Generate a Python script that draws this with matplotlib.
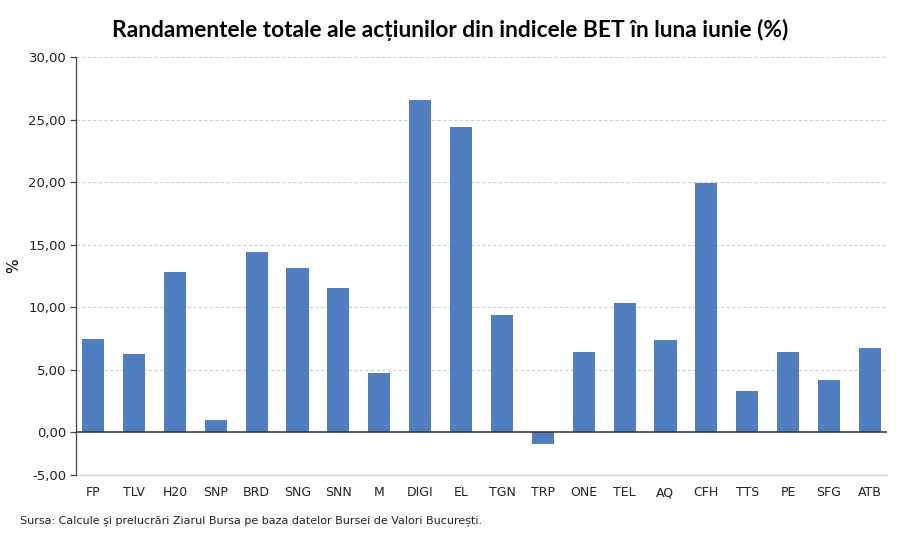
import numpy as np
import matplotlib.pyplot as plt
from matplotlib.ticker import FuncFormatter

tickers = ["FP", "TLV", "H20", "SNP", "BRD", "SNG", "SNN", "M", "DIGI", "EL",
           "TGN", "TRP", "ONE", "TEL", "AQ", "CFH", "TTS", "PE", "SFG", "ATB"]
returns = [7.44, 6.24, 12.8, 0.96, 14.4, 13.1, 11.5, 4.72, 26.6, 24.4,
           9.36, -1.4, 6.4, 10.3, 7.36, 19.9, 3.28, 6.4, 4.16, 6.72]
y_ticks = [-5, 0, 5, 10, 15, 20, 25, 30]

# the reference squeezes the part below zero
NEG = 0.683


def fwd(v):
    v = np.asarray(v, dtype=float)
    return np.where(v < 0, v * NEG, v)


def inv(v):
    v = np.asarray(v, dtype=float)
    return np.where(v < 0, v / NEG, v)


fig = plt.figure(figsize=(9, 5.37), dpi=100)
ax = fig.add_axes([0.0844, 0.1155, 0.9012, 0.778])
ax.set_yscale("function", functions=(fwd, inv))

x = np.arange(len(tickers))
ax.bar(x, returns, width=0.54, color="#4F7FC0", zorder=3)

ax.set_xlim(-0.42, 19.42)
ax.set_ylim(-5, 30)
ax.set_yticks(y_ticks)
ax.yaxis.set_major_formatter(FuncFormatter(lambda v, p: f"{v:.2f}".replace(".", ",")))
ax.yaxis.set_minor_locator(plt.NullLocator())
ax.set_xticks(x)
ax.set_xticklabels(tickers)

for v in y_ticks[2:]:
    ax.axhline(v, color="#d0d0d0", lw=0.8, ls=(0, (3, 2)), zorder=1)
ax.axhline(-5, color="#d4d4d4", lw=1, zorder=1, clip_on=False)
ax.axhline(0, color="#333333", lw=1.1, zorder=4)

for s in ["top", "right", "bottom"]:
    ax.spines[s].set_visible(False)
ax.spines["left"].set_color("#444444")
ax.spines["left"].set_linewidth(0.9)

ax.tick_params(axis="y", length=4, width=0.9, color="#444444", labelsize=9.5,
               labelcolor="#222222", pad=3)
ax.tick_params(axis="x", length=0, labelsize=9, labelcolor="#222222", pad=8)
ax.set_ylabel("%", fontsize=11, labelpad=5)

fig.text(0.5, 0.945, "Randamentele totale ale acțiunilor din indicele BET în luna iunie (%)",
         ha="center", va="center", fontsize=16.4, fontweight="bold",
         family=["Lato", "DejaVu Sans"])
fig.text(0.022, 0.030, "Sursa: Calcule și prelucrări Ziarul Bursa pe baza datelor Bursei de Valori București.",
         ha="left", va="center", fontsize=8, color="#222222")

fig.savefig("out.png", dpi=100)
